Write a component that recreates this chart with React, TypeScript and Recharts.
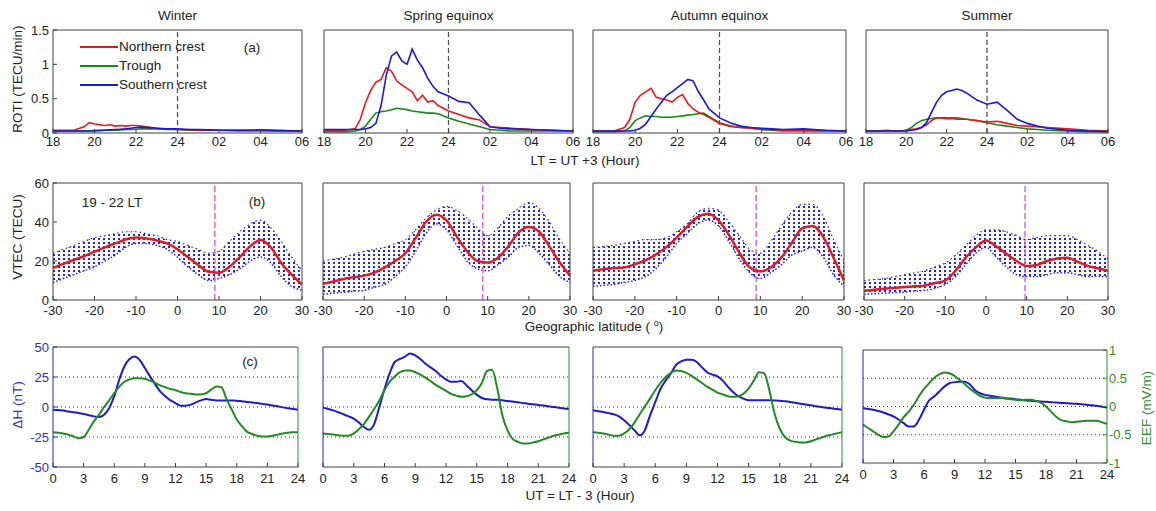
import React from "react";
import { LineChart, ComposedChart, Line, Area, XAxis, YAxis, ReferenceLine } from "recharts";

const FONT = '"Liberation Sans", Arial, Helvetica, sans-serif';
const RED = "#e31a1c";
const GREEN = "#1b871b";
const BLUE = "#1a1ad2";
const AXIS = "#404040";
const HATCH = "#2323dc";

const seasons = ["Winter", "Spring equinox", "Autumn equinox", "Summer"];

// ---- (a) ROTI, LT hours (24+ = next day)
const rotiHours = [18, 18.5, 19, 19.5, 19.75, 20, 20.25, 20.5, 20.75, 21, 21.25, 21.5, 21.75, 22, 22.25, 22.5, 22.75, 23, 23.25, 23.5, 24, 24.5, 25, 25.5, 26, 26.5, 27, 28, 29, 30];
const rotiTicks = [18, 20, 22, 24, 26, 28, 30];

const winterNorth = [0.04, 0.04, 0.04, 0.09, 0.15, 0.13, 0.12, 0.11, 0.12, 0.1, 0.11, 0.1, 0.11, 0.11, 0.1, 0.09, 0.08, 0.07, 0.06, 0.06, 0.05, 0.05, 0.04, 0.04, 0.04, 0.04, 0.04, 0.04, 0.035, 0.03];
const winterTrough = [0.03, 0.03, 0.03, 0.03, 0.03, 0.04, 0.04, 0.04, 0.04, 0.04, 0.045, 0.05, 0.05, 0.055, 0.06, 0.06, 0.06, 0.06, 0.055, 0.05, 0.05, 0.04, 0.04, 0.04, 0.04, 0.035, 0.03, 0.03, 0.03, 0.03];
const winterSouth = [0.03, 0.03, 0.03, 0.03, 0.03, 0.03, 0.035, 0.04, 0.045, 0.05, 0.055, 0.06, 0.07, 0.08, 0.085, 0.08, 0.075, 0.07, 0.065, 0.06, 0.06, 0.05, 0.05, 0.045, 0.04, 0.04, 0.04, 0.045, 0.035, 0.03];

const springNorth = [0.04, 0.04, 0.04, 0.06, 0.2, 0.44, 0.62, 0.74, 0.78, 0.95, 0.9, 0.76, 0.7, 0.65, 0.6, 0.47, 0.55, 0.45, 0.47, 0.4, 0.32, 0.27, 0.22, 0.19, 0.09, 0.08, 0.07, 0.05, 0.04, 0.03];
const springTrough = [0.02, 0.02, 0.02, 0.03, 0.05, 0.1, 0.2, 0.29, 0.31, 0.32, 0.34, 0.36, 0.35, 0.34, 0.32, 0.31, 0.3, 0.29, 0.29, 0.28, 0.22, 0.17, 0.13, 0.09, 0.05, 0.04, 0.03, 0.03, 0.03, 0.03];
const springSouth = [0.05, 0.05, 0.05, 0.05, 0.05, 0.06, 0.08, 0.14, 0.4, 0.84, 1.12, 1.18, 1.05, 1.0, 1.22, 1.06, 0.95, 0.8, 0.68, 0.6, 0.54, 0.46, 0.44, 0.26, 0.09, 0.07, 0.06, 0.05, 0.04, 0.03];

const autumnNorth = [0.03, 0.03, 0.03, 0.08, 0.2, 0.45, 0.55, 0.6, 0.65, 0.52, 0.5, 0.48, 0.45, 0.52, 0.56, 0.43, 0.35, 0.3, 0.27, 0.23, 0.14, 0.1, 0.08, 0.07, 0.05, 0.05, 0.04, 0.04, 0.035, 0.03];
const autumnTrough = [0.02, 0.02, 0.02, 0.03, 0.08, 0.18, 0.22, 0.25, 0.24, 0.24, 0.23, 0.23, 0.23, 0.24, 0.25, 0.26, 0.27, 0.28, 0.29, 0.24, 0.15, 0.1, 0.08, 0.07, 0.05, 0.04, 0.03, 0.03, 0.03, 0.03];
const autumnSouth = [0.03, 0.03, 0.03, 0.03, 0.03, 0.04, 0.07, 0.13, 0.24, 0.35, 0.45, 0.55, 0.6, 0.66, 0.72, 0.78, 0.76, 0.6, 0.48, 0.35, 0.22, 0.15, 0.1, 0.08, 0.07, 0.06, 0.05, 0.06, 0.04, 0.03];

const summerNorth = [0.03, 0.03, 0.04, 0.03, 0.03, 0.04, 0.05, 0.06, 0.08, 0.12, 0.18, 0.22, 0.22, 0.21, 0.21, 0.2, 0.2, 0.2, 0.19, 0.18, 0.16, 0.17, 0.14, 0.11, 0.1, 0.09, 0.08, 0.06, 0.04, 0.03];
const summerTrough = [0.03, 0.03, 0.03, 0.03, 0.03, 0.04, 0.08, 0.14, 0.18, 0.2, 0.21, 0.22, 0.22, 0.22, 0.22, 0.22, 0.21, 0.2, 0.19, 0.18, 0.15, 0.12, 0.1, 0.08, 0.06, 0.05, 0.04, 0.03, 0.02, 0.02];
const summerSouth = [0.03, 0.03, 0.03, 0.03, 0.03, 0.03, 0.04, 0.05, 0.08, 0.15, 0.3, 0.45, 0.55, 0.6, 0.62, 0.64, 0.62, 0.58, 0.53, 0.48, 0.42, 0.45, 0.33, 0.2, 0.14, 0.1, 0.07, 0.04, 0.03, 0.02];

const rotiNorth = [winterNorth, springNorth, autumnNorth, summerNorth];
const rotiTrough = [winterTrough, springTrough, autumnTrough, summerTrough];
const rotiSouth = [winterSouth, springSouth, autumnSouth, summerSouth];

// ---- (b) VTEC vs latitude, 19-22 LT
const lats = [-30, -27.5, -25, -22.5, -20, -17.5, -15, -12.5, -10, -7.5, -5, -2.5, 0, 2.5, 5, 7.5, 10, 12.5, 15, 17.5, 20, 22.5, 25, 27.5, 30];
const latTicks = [-30, -20, -10, 0, 10, 20, 30];

const winterMean = [16.5, 18.5, 20.5, 22.5, 24.8, 27, 29, 31, 32, 31.5, 30.5, 29, 26, 22, 18, 14.5, 14, 17, 22, 27.5, 30.8, 27, 19, 13, 8];
const winterHigh = [24, 26, 28, 30, 32, 33, 34, 35, 35, 34, 33, 31, 30, 28, 26, 24, 25, 30, 35, 39, 41, 37, 30, 22, 15];
const winterLow = [9, 11, 13, 15, 17, 20, 23, 27, 29, 29, 28, 26, 22, 17, 13, 10, 11, 13, 16, 20, 22, 19, 12, 7, 5];

const springMean = [8.3, 9.5, 10.8, 11.7, 12.5, 14, 16.7, 20, 24, 31.7, 40, 43.7, 40.8, 32.5, 25, 20, 19.2, 21.7, 27.5, 34.7, 37.5, 35, 27.5, 19.2, 12.5];
const springHigh = [20, 21, 22, 23.5, 25, 26, 27, 29, 31, 36, 42, 46, 48, 46, 42, 37, 33, 37, 43, 47, 50, 47, 40, 31, 24];
const springLow = [3, 3.5, 4, 4.5, 5, 6.5, 8, 12, 17, 25, 34, 39, 36, 28, 20, 16, 15, 18, 22, 27, 28, 24, 18, 12, 9];

const autumnMean = [15, 15.8, 16.3, 16.7, 18.3, 20.3, 23.3, 27, 32, 37.5, 42.5, 44.2, 40.8, 33.3, 24.2, 16.7, 14.7, 16.7, 21.7, 29.2, 36.7, 38, 32.5, 21.7, 10];
const autumnHigh = [27, 27.5, 28, 29, 30, 31, 31, 32, 35, 39, 45, 47, 46, 40, 33, 26, 24, 30, 38, 45, 49, 49, 43, 31, 20];
const autumnLow = [7, 7.5, 8, 9, 10, 12, 16, 22, 29, 34, 39, 41, 38, 30, 21, 14, 11, 14, 18, 23, 25, 27, 22, 13, 7];

const summerMean = [4.7, 5.2, 5.8, 6.2, 6.7, 7, 7.5, 8.7, 10, 15, 21.7, 27, 30.5, 27.5, 23.7, 20, 17.5, 18, 20, 21.3, 21.7, 19.7, 17.5, 16.3, 15];
const summerHigh = [10, 10.5, 11, 12, 13, 14, 15, 17, 19, 23, 28, 33, 36, 36, 35, 33, 31, 32, 33, 33, 33, 31, 28, 25, 21];
const summerLow = [3, 3.2, 3.5, 3.8, 4, 4.5, 5, 6, 8, 12, 18, 24, 27, 22, 17, 13, 12, 12, 13, 14, 14, 13, 12, 12, 12];

const vtecMean = [winterMean, springMean, autumnMean, summerMean];
const vtecHigh = [winterHigh, springHigh, autumnHigh, summerHigh];
const vtecLow = [winterLow, springLow, autumnLow, summerLow];
const dipLat = [9, 8.8, 9, 9.6];

// ---- (c) dH and EEF vs UT
const utHours = [0, 0.5, 1, 1.5, 2, 2.5, 3, 3.5, 4, 4.5, 5, 5.5, 6, 6.5, 7, 7.5, 8, 8.5, 9, 9.5, 10, 10.5, 11, 11.5, 12, 12.5, 13, 13.5, 14, 14.5, 15, 15.5, 16, 16.5, 17, 17.5, 18, 18.5, 19, 19.5, 20, 20.5, 21, 21.5, 22, 22.5, 23, 23.5, 24];
const utTicks = [0, 3, 6, 9, 12, 15, 18, 21, 24];

const winterDh = [-2.2, -2.6, -3, -3.7, -4.4, -5, -5.8, -6.8, -7.8, -8.3, -6.4, -1, 9, 23, 34, 40, 42, 39, 32.5, 25.5, 19, 13, 9, 5.5, 3.3, 1.1, 1.1, 2, 3.9, 5.5, 6.7, 6, 5.5, 5.5, 5.5, 5.4, 5.3, 4.8, 4.2, 3.8, 3.3, 2.6, 2, 1.3, 0.6, -0.3, -1.1, -1.7, -2.2];
const winterEef = [-0.42, -0.43, -0.44, -0.46, -0.49, -0.52, -0.5, -0.38, -0.24, -0.13, 0, 0.11, 0.23, 0.34, 0.42, 0.46, 0.48, 0.48, 0.47, 0.44, 0.4, 0.36, 0.33, 0.3, 0.28, 0.25, 0.23, 0.22, 0.21, 0.21, 0.23, 0.29, 0.34, 0.33, 0.13, -0.04, -0.21, -0.32, -0.41, -0.45, -0.48, -0.49, -0.49, -0.48, -0.46, -0.44, -0.43, -0.42, -0.42];

const springDh = [-0.5, -1.6, -2.8, -4.4, -6, -7.8, -9.7, -13, -16.7, -19, -14, 0, 15, 28, 37.5, 40, 42, 44.5, 43, 40, 36, 33, 30, 26, 23, 21, 21, 21.7, 18, 14, 10.3, 7.5, 6.4, 6.1, 6.1, 5.6, 5, 4.5, 3.9, 3.4, 2.8, 2.3, 1.7, 1.2, 0.6, 0, -0.6, -1.2, -1.7];
const springEef = [-0.44, -0.45, -0.46, -0.47, -0.48, -0.48, -0.44, -0.37, -0.28, -0.16, -0.03, 0.11, 0.28, 0.42, 0.51, 0.58, 0.61, 0.61, 0.58, 0.54, 0.49, 0.43, 0.37, 0.32, 0.27, 0.22, 0.19, 0.17, 0.18, 0.21, 0.28, 0.4, 0.6, 0.62, 0.31, -0.14, -0.39, -0.53, -0.58, -0.61, -0.61, -0.59, -0.57, -0.54, -0.51, -0.48, -0.46, -0.44, -0.43];

const autumnDh = [-2.8, -3.5, -4.2, -5.1, -6.1, -7.8, -11, -15, -19.4, -23.6, -19.4, -7, 4, 15, 22, 28, 35, 38, 39.4, 39.4, 37.5, 33, 29, 27, 25.5, 22, 17, 12.5, 9, 7, 5.6, 5.6, 5.6, 5.6, 5.6, 5.5, 5.3, 4.8, 4.2, 3.5, 2.8, 2.1, 1.4, 0.7, 0, -0.6, -1.1, -1.7, -2.2];
const autumnEef = [-0.42, -0.43, -0.44, -0.46, -0.48, -0.48, -0.44, -0.37, -0.26, -0.12, 0.01, 0.14, 0.28, 0.4, 0.5, 0.57, 0.61, 0.6, 0.57, 0.52, 0.46, 0.4, 0.34, 0.29, 0.24, 0.21, 0.18, 0.17, 0.18, 0.22, 0.31, 0.44, 0.58, 0.56, 0.28, -0.11, -0.36, -0.5, -0.56, -0.58, -0.59, -0.59, -0.57, -0.54, -0.51, -0.48, -0.46, -0.44, -0.42];

const summerDh = [-1.5, -2.2, -2.9, -4, -5.3, -7, -8.8, -11.5, -14.7, -17.6, -17.6, -11.8, -2.9, 5.3, 8.8, 13.2, 17.6, 20.6, 21.5, 22, 22, 19.7, 14.7, 11.8, 10.3, 9.5, 8.8, 8, 7.4, 7, 6.5, 5.9, 5.3, 5, 4.7, 4.4, 4.1, 3.8, 3.5, 3.2, 2.9, 2.6, 2.4, 2, 1.5, 1, 0.6, -0.2, -0.9];
const summerEef = [-0.32, -0.38, -0.44, -0.5, -0.54, -0.53, -0.44, -0.32, -0.19, -0.09, 0.03, 0.18, 0.31, 0.41, 0.51, 0.57, 0.6, 0.59, 0.54, 0.47, 0.4, 0.32, 0.25, 0.19, 0.16, 0.15, 0.15, 0.15, 0.14, 0.13, 0.12, 0.11, 0.12, 0.12, 0.1, 0.07, 0, -0.09, -0.18, -0.24, -0.26, -0.28, -0.27, -0.26, -0.25, -0.25, -0.25, -0.28, -0.31];

const dhSeries = [winterDh, springDh, autumnDh, summerDh];
const eefSeries = [winterEef, springEef, autumnEef, summerEef];

// plot-area boxes (x, y, w, h)
type Box = { x: number; y: number; w: number; h: number };
const rotiBoxes: Box[] = [
  { x: 53, y: 30, w: 249, h: 103 },
  { x: 324, y: 30, w: 249, h: 103 },
  { x: 593, y: 30, w: 253, h: 103 },
  { x: 866, y: 30, w: 242, h: 103 },
];
const vtecBoxes: Box[] = [
  { x: 53, y: 183, w: 249, h: 117 },
  { x: 323, y: 183, w: 247, h: 117 },
  { x: 593, y: 183, w: 251, h: 117 },
  { x: 864, y: 183, w: 244, h: 117 },
];
const eefBoxes: Box[] = [
  { x: 53, y: 347, w: 245, h: 120 },
  { x: 323, y: 347, w: 246, h: 120 },
  { x: 593, y: 347, w: 249, h: 120 },
  { x: 863, y: 350, w: 244, h: 113 },
];

// room around each plot area: left axis, top margin (incl. 1px top axis), right margin (incl. 1px right axis), bottom axis
const PAD_L = 40;
const PAD_T = 6;
const PAD_R = 14;
const PAD_B = 28;

const tickStyle = { fontSize: 13, fill: "#222", fontFamily: FONT };
const hourLabel = (v: number) => (v <= 24 ? String(v) : String(v - 24).padStart(2, "0"));
const hidden = { stroke: "transparent", dot: false, activeDot: false, isAnimationActive: false } as const;

function RotiPanel({ i }: { i: number }) {
  const b = rotiBoxes[i];
  const data = rotiHours.map((t, k) => ({
    t,
    north: rotiNorth[i][k],
    trough: rotiTrough[i][k],
    south: rotiSouth[i][k],
  }));
  return (
    <div style={{ position: "absolute", left: b.x - PAD_L, top: b.y - PAD_T }}>
      <LineChart
        width={b.w + PAD_L + PAD_R}
        height={b.h + PAD_T + PAD_B}
        data={data}
        margin={{ top: PAD_T - 1, right: PAD_R - 1, bottom: 0, left: 0 }}
      >
        <XAxis dataKey="t" type="number" domain={[18, 30]} ticks={rotiTicks} interval={0}
          tickFormatter={hourLabel} height={PAD_B} tickSize={-4} tickMargin={8} tick={tickStyle} stroke={AXIS} />
        <XAxis xAxisId="top" dataKey="t" orientation="top" type="number" domain={[18, 30]} ticks={rotiTicks}
          interval={0} height={1} tick={false} tickSize={-4} stroke={AXIS} />
        <YAxis type="number" domain={[0, 1.5]} ticks={[0, 0.5, 1, 1.5]} interval={0} width={PAD_L}
          tickSize={-4} tickMargin={8} tick={i === 0 ? tickStyle : false} stroke={AXIS} />
        <YAxis yAxisId="r" orientation="right" type="number" domain={[0, 1.5]} ticks={[0, 0.5, 1, 1.5]}
          interval={0} width={1} tick={false} tickSize={-4} stroke={AXIS} />
        <ReferenceLine x={24} stroke="#555" strokeDasharray="5 3" strokeWidth={1.3} />
        <Line xAxisId="top" yAxisId="r" dataKey="trough" {...hidden} />
        <Line dataKey="trough" type="linear" stroke={GREEN} strokeWidth={1.6} dot={false} isAnimationActive={false} />
        <Line dataKey="north" type="linear" stroke={RED} strokeWidth={1.6} dot={false} isAnimationActive={false} />
        <Line dataKey="south" type="linear" stroke={BLUE} strokeWidth={1.6} dot={false} isAnimationActive={false} />
      </LineChart>
    </div>
  );
}

function VtecPanel({ i }: { i: number }) {
  const b = vtecBoxes[i];
  const data = lats.map((lat, k) => ({
    lat,
    band: [vtecLow[i][k], vtecHigh[i][k]],
    lo: vtecLow[i][k],
    hi: vtecHigh[i][k],
    mean: vtecMean[i][k],
  }));
  return (
    <div style={{ position: "absolute", left: b.x - PAD_L, top: b.y - PAD_T }}>
      <ComposedChart
        width={b.w + PAD_L + PAD_R}
        height={b.h + PAD_T + PAD_B}
        data={data}
        margin={{ top: PAD_T - 1, right: PAD_R - 1, bottom: 0, left: 0 }}
      >
        <XAxis dataKey="lat" type="number" domain={[-30, 30]} ticks={latTicks} interval={0}
          height={PAD_B} tickSize={-4} tickMargin={10} tick={tickStyle} stroke={AXIS} />
        <XAxis xAxisId="top" dataKey="lat" orientation="top" type="number" domain={[-30, 30]} ticks={latTicks}
          interval={0} height={1} tick={false} tickSize={-4} stroke={AXIS} />
        <YAxis type="number" domain={[0, 60]} ticks={[0, 20, 40, 60]} interval={0} width={PAD_L}
          tickSize={-4} tickMargin={8} tick={i === 0 ? tickStyle : false} stroke={AXIS} />
        <YAxis yAxisId="r" orientation="right" type="number" domain={[0, 60]} ticks={[0, 20, 40, 60]}
          interval={0} width={1} tick={false} tickSize={-4} stroke={AXIS} />
        <Area dataKey="band" type="monotone" fill="url(#vtecHatch)" fillOpacity={1} stroke="none" isAnimationActive={false} />
        <Line dataKey="lo" type="monotone" stroke={HATCH} strokeWidth={1.5} strokeDasharray="1.5 2" dot={false} isAnimationActive={false} />
        <Line dataKey="hi" type="monotone" stroke={HATCH} strokeWidth={1.2} strokeDasharray="1.5 3" dot={false} isAnimationActive={false} />
        <Line xAxisId="top" yAxisId="r" dataKey="mean" {...hidden} />
        <ReferenceLine x={dipLat[i]} stroke="#d46bd4" strokeDasharray="6 3" strokeWidth={1.5} />
        <Line dataKey="mean" type="monotone" stroke={RED} strokeWidth={2.5} dot={false} isAnimationActive={false} />
      </ComposedChart>
    </div>
  );
}

function EefPanel({ i }: { i: number }) {
  const b = eefBoxes[i];
  const rightW = i === 3 ? 34 : 1;
  const data = utHours.map((t, k) => ({ t, dh: dhSeries[i][k], eef: eefSeries[i][k] }));
  return (
    <div style={{ position: "absolute", left: b.x - PAD_L, top: b.y - PAD_T }}>
      <LineChart
        width={b.w + PAD_L + PAD_R + rightW - 1}
        height={b.h + PAD_T + PAD_B}
        data={data}
        margin={{ top: PAD_T - 1, right: PAD_R - 1, bottom: 0, left: 0 }}
      >
        <XAxis dataKey="t" type="number" domain={[0, 24]} ticks={utTicks} interval={0}
          height={PAD_B} tickSize={-4} tickMargin={11} tick={tickStyle} stroke={AXIS} />
        <XAxis xAxisId="top" dataKey="t" orientation="top" type="number" domain={[0, 24]} ticks={utTicks}
          interval={0} height={1} tick={false} tickSize={-4} stroke={AXIS} />
        <YAxis yAxisId="left" type="number" domain={[-50, 50]} ticks={[-50, -25, 0, 25, 50]} interval={0}
          width={PAD_L} tickSize={-4} tickMargin={8}
          tick={i === 0 ? { ...tickStyle, fill: "#3030b0" } : false} stroke="#2828b8" />
        <YAxis yAxisId="right" orientation="right" type="number" domain={[-1, 1]} ticks={[-1, -0.5, 0, 0.5, 1]}
          interval={0} width={rightW} tickSize={-4} tickMargin={6}
          tick={i === 3 ? { ...tickStyle, fill: "#2e8b2e" } : false} stroke="#2e8b2e" />
        <ReferenceLine yAxisId="left" y={25} stroke="#333" strokeDasharray="1 3" />
        <ReferenceLine yAxisId="left" y={0} stroke="#333" strokeDasharray="1 3" />
        <ReferenceLine yAxisId="left" y={-25} stroke="#333" strokeDasharray="1 3" />
        <Line xAxisId="top" yAxisId="right" dataKey="eef" {...hidden} />
        <Line yAxisId="left" dataKey="dh" type="monotone" stroke="#1c1cc4" strokeWidth={2} dot={false} isAnimationActive={false} />
        <Line yAxisId="right" dataKey="eef" type="monotone" stroke="#238a23" strokeWidth={2} dot={false} isAnimationActive={false} />
      </LineChart>
    </div>
  );
}

function Label({ x, y, children, size = 13.5, color = "#222", rotate = false }: {
  x: number; y: number; children: React.ReactNode; size?: number; color?: string; rotate?: boolean;
}) {
  return (
    <div
      style={{
        position: "absolute",
        left: x,
        top: y,
        transform: `translate(-50%, -50%)${rotate ? " rotate(-90deg)" : ""}`,
        fontSize: size,
        color,
        whiteSpace: "nowrap",
        lineHeight: 1,
      }}
    >
      {children}
    </div>
  );
}

const legendItems: [string, string][] = [
  ["Northern crest", RED],
  ["Trough", GREEN],
  ["Southern crest", BLUE],
];

export default function App() {
  const centers = rotiBoxes.map((b) => b.x + b.w / 2);
  return (
    <div
      style={{
        position: "absolute",
        left: 0,
        top: 0,
        width: 1156,
        height: 511,
        overflow: "hidden",
        background: "#fff",
        fontFamily: FONT,
      }}
    >
      {/* shared dotted hatch for the VTEC spread band */}
      <svg width={0} height={0} style={{ position: "absolute", left: 0, top: 0 }}>
        <defs>
          <pattern id="vtecHatch" width="5" height="4" patternUnits="userSpaceOnUse">
            <rect x="0" y="1" width="2" height="2" fill={HATCH} />
          </pattern>
        </defs>
      </svg>

      {[0, 1, 2, 3].map((i) => (
        <React.Fragment key={i}>
          <RotiPanel i={i} />
          <VtecPanel i={i} />
          <EefPanel i={i} />
          <Label x={centers[i]} y={16}>{seasons[i]}</Label>
        </React.Fragment>
      ))}

      <Label x={18} y={79} rotate>ROTI (TECU/min)</Label>
      <Label x={585} y={161}>LT = UT +3 (Hour)</Label>
      <Label x={18} y={237} rotate>VTEC (TECU)</Label>
      <Label x={594} y={326}>
        Geographic latitude ( <sup style={{ fontSize: 9 }}>o</sup>)
      </Label>
      <Label x={18} y={405} rotate color="#3030b0">ΔH (nT)</Label>
      <Label x={1147} y={408} rotate color="#2e8b2e">EEF (mV/m)</Label>
      <Label x={580} y={496}>UT = LT - 3 (Hour)</Label>

      <Label x={252} y={48}>(a)</Label>
      <Label x={257} y={202}>(b)</Label>
      <Label x={250} y={362}>(c)</Label>
      <Label x={112} y={203}>19 - 22 LT</Label>

      {legendItems.map(([name, color], k) => (
        <div key={name} style={{ position: "absolute", left: 80, top: 47 + 19 * k - 8, height: 16, display: "flex", alignItems: "center" }}>
          <svg width={38} height={4} style={{ display: "block" }}>
            <line x1={0} y1={2} x2={38} y2={2} stroke={color} strokeWidth={2} />
          </svg>
          <span style={{ fontSize: 13.5, color: "#222", marginLeft: 1, lineHeight: 1 }}>{name}</span>
        </div>
      ))}
    </div>
  );
}
